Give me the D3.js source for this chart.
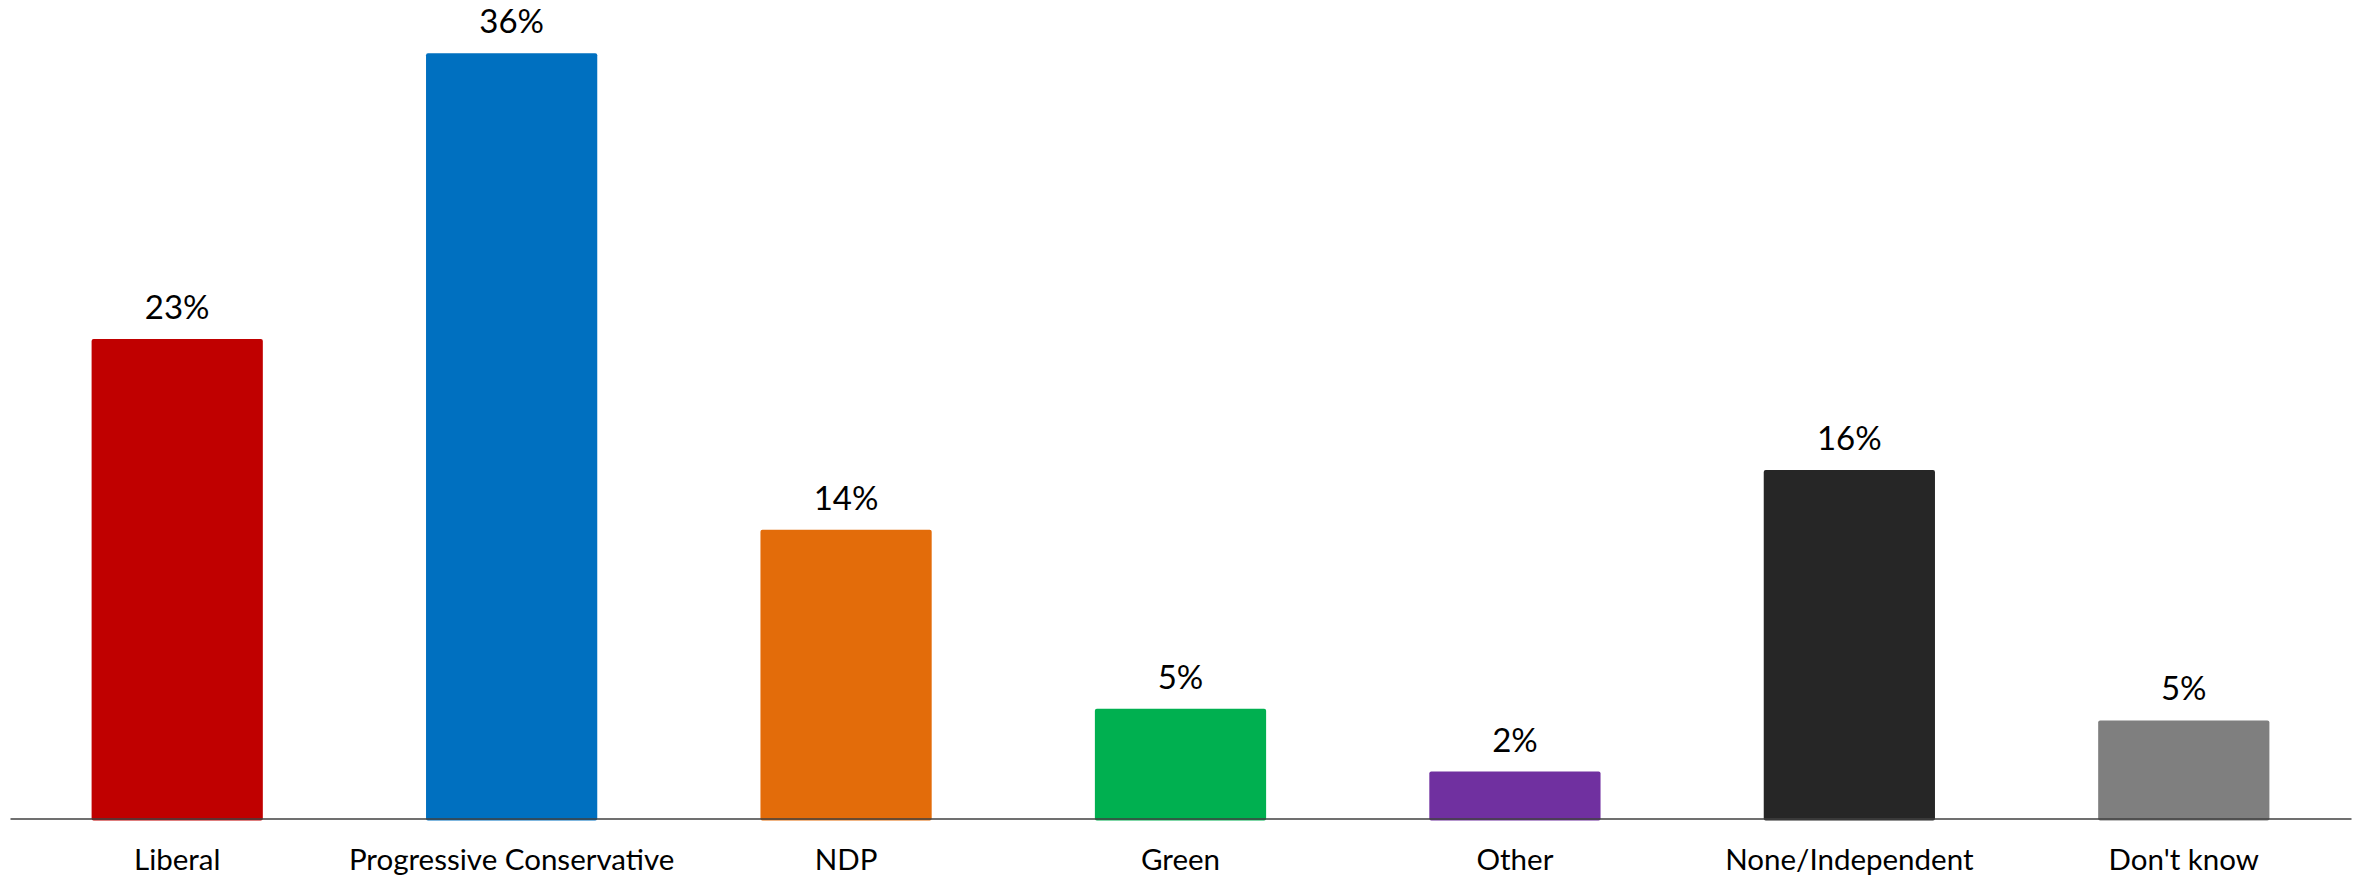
<!DOCTYPE html>
<html>
<head>
<meta charset="utf-8">
<script src="https://cdn.jsdelivr.net/npm/d3@7"></script>
<style>
  html, body { margin: 0; padding: 0; background: #ffffff; }
  svg { display: block; }
  text { font-family: Lato, "Open Sans", "Liberation Sans", sans-serif; fill: #000000; }
</style>
</head>
<body>
<svg id="chart" width="2359" height="879"></svg>
<script>
const categories = ["Liberal", "Progressive Conservative", "NDP", "Green", "Other", "None/Independent", "Don't know"];
const values = [22.5, 35.9, 13.55, 5.15, 2.2, 16.35, 4.6];
const valueLabels = ["23%", "36%", "14%", "5%", "2%", "16%", "5%"];
const colors = ["#C00000", "#0070C0", "#E36C0A", "#00B050", "#7030A0", "#262626", "#7F7F7F"];

const W = 2359, H = 879;
const margin = { left: 10, right: 8, top: 0, baseline: 818.5 };

const svg = d3.select("#chart");

const x = d3.scaleBand()
  .domain(categories)
  .range([margin.left, W - margin.right])
  .paddingInner(0.488)
  .paddingOuter(0.244);

const y = d3.scaleLinear()
  .domain([0, 38.4])
  .range([margin.baseline, 0]);

const data = categories.map((c, i) => ({ c, v: values[i], label: valueLabels[i], color: colors[i] }));

svg.append("g").selectAll("rect")
  .data(data)
  .join("rect")
  .attr("x", d => x(d.c))
  .attr("y", d => y(d.v))
  .attr("width", x.bandwidth())
  .attr("height", d => y(0) - y(d.v) + 2)
  .attr("rx", 2)
  .attr("fill", d => d.color);

// baseline axis
const axis = d3.axisBottom(x).tickSize(0).tickPadding(0);
const gx = svg.append("g")
  .attr("transform", `translate(0,${margin.baseline})`)
  .call(axis);
gx.select(".domain")
  .attr("stroke", "#404040")
  .attr("stroke-width", 1.6);
gx.selectAll(".tick text")
  .attr("dy", null)
  .attr("y", 51)
  .attr("font-size", 29.5)
  .style("font-family", "Lato, 'Open Sans', sans-serif")
  .attr("fill", "#000");

// value labels
svg.append("g").selectAll("text")
  .data(data)
  .join("text")
  .attr("x", d => x(d.c) + x.bandwidth() / 2)
  .attr("y", d => y(d.v) - 20)
  .attr("text-anchor", "middle")
  .attr("font-size", 33)
  .text(d => d.label);
</script>
</body>
</html>
